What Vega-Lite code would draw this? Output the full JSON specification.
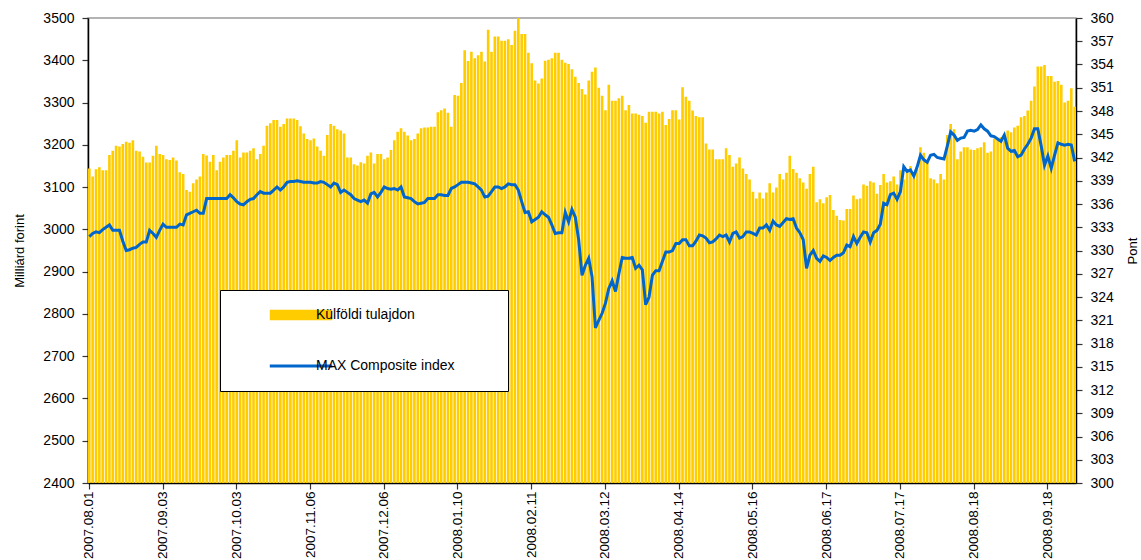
{
"$schema": "https://vega.github.io/schema/vega-lite/v6.json",
"width": 988, "height": 465,
"autosize": {"type": "none"},
"padding": {"left": 88, "top": 18, "right": 65, "bottom": 77},
"background": "white",
"config": {
  "font": "Liberation Sans",
  "view": {"stroke": "#9a9a9a", "strokeWidth": 1.5},
  "axis": {"labelFont": "Liberation Sans", "labelFontSize": 14, "labelColor": "#000000", "titleFont": "Liberation Sans", "titleFontSize": 13, "titleFontWeight": "normal", "titleColor": "#000000", "domainColor": "#000000", "domainWidth": 1.5, "tickColor": "#333333", "tickSize": 6, "tickWidth": 1.2, "grid": false}
},
"data": {"values": [
{"d":"2007.08.01","f":3144,"m":331.8},{"d":"2007.08.02","f":3125,"m":332.2},{"d":"2007.08.03","f":3142,"m":332.4},{"d":"2007.08.06","f":3147,"m":332.3},{"d":"2007.08.07","f":3140,"m":332.7},{"d":"2007.08.08","f":3140,"m":333.0},{"d":"2007.08.09","f":3176,"m":333.3},{"d":"2007.08.10","f":3186,"m":332.6},{"d":"2007.08.13","f":3198,"m":332.6},{"d":"2007.08.14","f":3196,"m":332.6},
{"d":"2007.08.15","f":3202,"m":331.2},{"d":"2007.08.16","f":3207,"m":330.0},{"d":"2007.08.17","f":3205,"m":330.1},{"d":"2007.08.21","f":3211,"m":330.3},{"d":"2007.08.22","f":3186,"m":330.4},{"d":"2007.08.23","f":3184,"m":330.8},{"d":"2007.08.24","f":3172,"m":331.1},{"d":"2007.08.27","f":3158,"m":331.1},{"d":"2007.08.28","f":3158,"m":332.6},{"d":"2007.08.29","f":3174,"m":332.2},
{"d":"2007.08.30","f":3198,"m":331.7},{"d":"2007.08.31","f":3178,"m":332.6},{"d":"2007.09.03","f":3176,"m":333.4},{"d":"2007.09.04","f":3166,"m":333.0},{"d":"2007.09.05","f":3164,"m":333.0},{"d":"2007.09.06","f":3170,"m":333.0},{"d":"2007.09.07","f":3163,"m":333.0},{"d":"2007.09.10","f":3135,"m":333.4},{"d":"2007.09.11","f":3131,"m":333.3},{"d":"2007.09.12","f":3093,"m":334.6},
{"d":"2007.09.13","f":3089,"m":334.8},{"d":"2007.09.14","f":3109,"m":335.0},{"d":"2007.09.17","f":3118,"m":335.2},{"d":"2007.09.18","f":3125,"m":334.8},{"d":"2007.09.19","f":3178,"m":334.8},{"d":"2007.09.20","f":3175,"m":336.7},{"d":"2007.09.21","f":3160,"m":336.7},{"d":"2007.09.24","f":3176,"m":336.7},{"d":"2007.09.25","f":3140,"m":336.7},{"d":"2007.09.26","f":3160,"m":336.7},
{"d":"2007.09.27","f":3170,"m":336.7},{"d":"2007.09.28","f":3176,"m":336.7},{"d":"2007.10.01","f":3176,"m":337.2},{"d":"2007.10.02","f":3186,"m":336.8},{"d":"2007.10.03","f":3211,"m":336.3},{"d":"2007.10.04","f":3170,"m":336.0},{"d":"2007.10.05","f":3182,"m":335.9},{"d":"2007.10.08","f":3182,"m":336.3},{"d":"2007.10.09","f":3186,"m":336.6},{"d":"2007.10.10","f":3192,"m":336.7},
{"d":"2007.10.11","f":3166,"m":337.2},{"d":"2007.10.12","f":3178,"m":337.6},{"d":"2007.10.15","f":3198,"m":337.4},{"d":"2007.10.16","f":3245,"m":337.4},{"d":"2007.10.17","f":3251,"m":337.4},{"d":"2007.10.18","f":3259,"m":337.8},{"d":"2007.10.19","f":3259,"m":338.2},{"d":"2007.10.20","f":3243,"m":337.8},{"d":"2007.10.24","f":3249,"m":338.2},{"d":"2007.10.25","f":3262,"m":338.8},
{"d":"2007.10.26","f":3262,"m":338.9},{"d":"2007.10.29","f":3262,"m":338.9},{"d":"2007.10.30","f":3259,"m":339.0},{"d":"2007.10.31","f":3244,"m":338.9},{"d":"2007.11.02","f":3227,"m":338.8},{"d":"2007.11.05","f":3214,"m":338.8},{"d":"2007.11.06","f":3211,"m":338.8},{"d":"2007.11.07","f":3215,"m":338.7},{"d":"2007.11.08","f":3196,"m":338.7},{"d":"2007.11.09","f":3186,"m":338.9},
{"d":"2007.11.12","f":3174,"m":338.8},{"d":"2007.11.13","f":3223,"m":338.5},{"d":"2007.11.14","f":3249,"m":338.2},{"d":"2007.11.15","f":3245,"m":338.7},{"d":"2007.11.16","f":3237,"m":338.5},{"d":"2007.11.19","f":3234,"m":337.5},{"d":"2007.11.20","f":3227,"m":337.8},{"d":"2007.11.21","f":3170,"m":337.5},{"d":"2007.11.22","f":3170,"m":337.2},{"d":"2007.11.23","f":3154,"m":336.7},
{"d":"2007.11.26","f":3151,"m":336.5},{"d":"2007.11.27","f":3159,"m":336.3},{"d":"2007.11.28","f":3156,"m":336.5},{"d":"2007.11.29","f":3174,"m":336.1},{"d":"2007.11.30","f":3182,"m":337.3},{"d":"2007.12.03","f":3156,"m":337.5},{"d":"2007.12.04","f":3178,"m":336.9},{"d":"2007.12.05","f":3178,"m":337.5},{"d":"2007.12.06","f":3166,"m":338.2},{"d":"2007.12.07","f":3170,"m":338.0},
{"d":"2007.12.10","f":3188,"m":337.9},{"d":"2007.12.11","f":3211,"m":338.0},{"d":"2007.12.12","f":3231,"m":337.8},{"d":"2007.12.13","f":3239,"m":338.2},{"d":"2007.12.14","f":3231,"m":336.9},{"d":"2007.12.17","f":3222,"m":336.8},{"d":"2007.12.18","f":3211,"m":336.7},{"d":"2007.12.19","f":3214,"m":336.3},{"d":"2007.12.20","f":3227,"m":336.0},{"d":"2007.12.21","f":3239,"m":336.1},
{"d":"2007.12.22","f":3241,"m":336.2},{"d":"2007.12.27","f":3241,"m":336.7},{"d":"2007.12.28","f":3243,"m":336.7},{"d":"2007.12.31","f":3243,"m":336.7},{"d":"2008.01.02","f":3277,"m":337.2},{"d":"2008.01.03","f":3282,"m":337.2},{"d":"2008.01.04","f":3286,"m":337.1},{"d":"2008.01.07","f":3276,"m":337.1},{"d":"2008.01.08","f":3243,"m":338.0},{"d":"2008.01.09","f":3318,"m":338.2},
{"d":"2008.01.10","f":3316,"m":338.5},{"d":"2008.01.11","f":3346,"m":338.8},{"d":"2008.01.14","f":3424,"m":338.8},{"d":"2008.01.15","f":3398,"m":338.8},{"d":"2008.01.16","f":3420,"m":338.7},{"d":"2008.01.17","f":3405,"m":338.6},{"d":"2008.01.18","f":3412,"m":338.2},{"d":"2008.01.21","f":3420,"m":337.8},{"d":"2008.01.22","f":3397,"m":336.9},{"d":"2008.01.23","f":3472,"m":337.0},
{"d":"2008.01.24","f":3420,"m":337.6},{"d":"2008.01.25","f":3456,"m":338.2},{"d":"2008.01.28","f":3456,"m":338.2},{"d":"2008.01.29","f":3446,"m":338.0},{"d":"2008.01.30","f":3446,"m":338.2},{"d":"2008.01.31","f":3450,"m":338.6},{"d":"2008.02.01","f":3436,"m":338.5},{"d":"2008.02.04","f":3470,"m":338.5},{"d":"2008.02.05","f":3500,"m":337.8},{"d":"2008.02.06","f":3462,"m":336.3},
{"d":"2008.02.07","f":3462,"m":334.9},{"d":"2008.02.08","f":3418,"m":335.0},{"d":"2008.02.11","f":3393,"m":333.7},{"d":"2008.02.12","f":3352,"m":334.0},{"d":"2008.02.13","f":3345,"m":334.3},{"d":"2008.02.14","f":3357,"m":335.0},{"d":"2008.02.15","f":3399,"m":334.6},{"d":"2008.02.18","f":3401,"m":334.3},{"d":"2008.02.19","f":3405,"m":333.3},{"d":"2008.02.20","f":3418,"m":332.2},
{"d":"2008.02.21","f":3418,"m":332.3},{"d":"2008.02.22","f":3401,"m":332.3},{"d":"2008.02.25","f":3394,"m":334.9},{"d":"2008.02.26","f":3391,"m":333.7},{"d":"2008.02.27","f":3379,"m":335.3},{"d":"2008.02.28","f":3361,"m":334.3},{"d":"2008.02.29","f":3346,"m":331.4},{"d":"2008.03.03","f":3332,"m":326.8},{"d":"2008.03.04","f":3319,"m":328.1},{"d":"2008.03.05","f":3352,"m":329.0},
{"d":"2008.03.06","f":3373,"m":326.6},{"d":"2008.03.07","f":3383,"m":320.0},{"d":"2008.03.10","f":3335,"m":321.0},{"d":"2008.03.11","f":3316,"m":321.9},{"d":"2008.03.12","f":3282,"m":323.2},{"d":"2008.03.13","f":3342,"m":325.1},{"d":"2008.03.14","f":3304,"m":326.1},{"d":"2008.03.17","f":3304,"m":324.7},{"d":"2008.03.18","f":3310,"m":327.0},{"d":"2008.03.19","f":3316,"m":329.1},
{"d":"2008.03.20","f":3282,"m":329.0},{"d":"2008.03.21","f":3294,"m":329.0},{"d":"2008.03.25","f":3274,"m":329.1},{"d":"2008.03.26","f":3274,"m":327.7},{"d":"2008.03.27","f":3271,"m":328.1},{"d":"2008.03.28","f":3268,"m":327.5},{"d":"2008.03.31","f":3252,"m":323.0},{"d":"2008.04.01","f":3278,"m":324.0},{"d":"2008.04.02","f":3278,"m":326.8},{"d":"2008.04.03","f":3278,"m":327.4},
{"d":"2008.04.04","f":3274,"m":327.4},{"d":"2008.04.07","f":3278,"m":328.6},{"d":"2008.04.08","f":3247,"m":329.8},{"d":"2008.04.09","f":3261,"m":329.8},{"d":"2008.04.10","f":3282,"m":330.0},{"d":"2008.04.11","f":3282,"m":330.9},{"d":"2008.04.14","f":3260,"m":330.9},{"d":"2008.04.15","f":3336,"m":331.4},{"d":"2008.04.16","f":3314,"m":331.4},{"d":"2008.04.17","f":3304,"m":330.6},
{"d":"2008.04.18","f":3281,"m":330.6},{"d":"2008.04.21","f":3268,"m":331.2},{"d":"2008.04.22","f":3265,"m":332.0},{"d":"2008.04.23","f":3265,"m":331.9},{"d":"2008.04.24","f":3203,"m":331.6},{"d":"2008.04.25","f":3189,"m":331.0},{"d":"2008.04.28","f":3189,"m":331.1},{"d":"2008.04.29","f":3166,"m":331.5},{"d":"2008.04.30","f":3166,"m":332.0},{"d":"2008.05.02","f":3166,"m":331.8},
{"d":"2008.05.05","f":3192,"m":332.0},{"d":"2008.05.06","f":3176,"m":331.1},{"d":"2008.05.07","f":3148,"m":332.2},{"d":"2008.05.08","f":3156,"m":332.4},{"d":"2008.05.09","f":3170,"m":331.6},{"d":"2008.05.13","f":3144,"m":331.8},{"d":"2008.05.14","f":3131,"m":332.4},{"d":"2008.05.15","f":3118,"m":332.4},{"d":"2008.05.16","f":3089,"m":332.2},{"d":"2008.05.19","f":3073,"m":332.0},
{"d":"2008.05.20","f":3087,"m":332.9},{"d":"2008.05.21","f":3073,"m":332.9},{"d":"2008.05.22","f":3087,"m":333.3},{"d":"2008.05.23","f":3109,"m":332.6},{"d":"2008.05.26","f":3087,"m":333.8},{"d":"2008.05.27","f":3099,"m":333.3},{"d":"2008.05.28","f":3131,"m":333.1},{"d":"2008.05.29","f":3118,"m":333.6},{"d":"2008.05.30","f":3134,"m":334.1},{"d":"2008.06.02","f":3174,"m":334.0},
{"d":"2008.06.03","f":3143,"m":334.1},{"d":"2008.06.04","f":3134,"m":332.9},{"d":"2008.06.05","f":3121,"m":332.3},{"d":"2008.06.06","f":3111,"m":331.4},{"d":"2008.06.09","f":3096,"m":327.7},{"d":"2008.06.10","f":3131,"m":329.4},{"d":"2008.06.11","f":3148,"m":330.0},{"d":"2008.06.12","f":3064,"m":329.0},{"d":"2008.06.13","f":3071,"m":328.6},{"d":"2008.06.16","f":3062,"m":329.3},
{"d":"2008.06.17","f":3076,"m":329.1},{"d":"2008.06.18","f":3081,"m":328.7},{"d":"2008.06.19","f":3046,"m":329.1},{"d":"2008.06.20","f":3032,"m":329.4},{"d":"2008.06.23","f":3022,"m":329.4},{"d":"2008.06.24","f":3021,"m":329.7},{"d":"2008.06.25","f":3048,"m":330.7},{"d":"2008.06.26","f":3048,"m":330.5},{"d":"2008.06.27","f":3080,"m":331.8},{"d":"2008.06.30","f":3071,"m":330.9},
{"d":"2008.07.01","f":3073,"m":331.7},{"d":"2008.07.02","f":3106,"m":332.4},{"d":"2008.07.03","f":3103,"m":332.3},{"d":"2008.07.04","f":3114,"m":331.1},{"d":"2008.07.07","f":3111,"m":332.3},{"d":"2008.07.08","f":3084,"m":332.6},{"d":"2008.07.09","f":3105,"m":333.4},{"d":"2008.07.10","f":3131,"m":336.1},{"d":"2008.07.11","f":3111,"m":335.9},{"d":"2008.07.14","f":3114,"m":337.2},
{"d":"2008.07.15","f":3125,"m":337.4},{"d":"2008.07.16","f":3106,"m":336.6},{"d":"2008.07.17","f":3140,"m":337.6},{"d":"2008.07.18","f":3118,"m":340.8},{"d":"2008.07.21","f":3140,"m":340.2},{"d":"2008.07.22","f":3150,"m":340.4},{"d":"2008.07.23","f":3121,"m":339.6},{"d":"2008.07.24","f":3142,"m":340.8},{"d":"2008.07.25","f":3194,"m":342.3},{"d":"2008.07.28","f":3181,"m":341.7},
{"d":"2008.07.29","f":3158,"m":341.4},{"d":"2008.07.30","f":3121,"m":342.3},{"d":"2008.07.31","f":3118,"m":342.4},{"d":"2008.08.01","f":3109,"m":342.0},{"d":"2008.08.04","f":3131,"m":341.9},{"d":"2008.08.05","f":3118,"m":341.8},{"d":"2008.08.06","f":3223,"m":343.5},{"d":"2008.08.07","f":3249,"m":345.3},{"d":"2008.08.08","f":3237,"m":344.9},{"d":"2008.08.11","f":3166,"m":344.2},
{"d":"2008.08.12","f":3184,"m":344.5},{"d":"2008.08.13","f":3194,"m":344.6},{"d":"2008.08.14","f":3194,"m":345.4},{"d":"2008.08.15","f":3189,"m":345.5},{"d":"2008.08.18","f":3188,"m":345.4},{"d":"2008.08.19","f":3192,"m":345.6},{"d":"2008.08.21","f":3194,"m":346.2},{"d":"2008.08.22","f":3206,"m":345.7},{"d":"2008.08.25","f":3181,"m":345.4},{"d":"2008.08.26","f":3184,"m":344.8},
{"d":"2008.08.27","f":3215,"m":344.7},{"d":"2008.08.28","f":3215,"m":344.4},{"d":"2008.08.29","f":3218,"m":344.1},{"d":"2008.09.01","f":3210,"m":344.9},{"d":"2008.09.02","f":3234,"m":343.2},{"d":"2008.09.03","f":3230,"m":342.8},{"d":"2008.09.04","f":3241,"m":342.9},{"d":"2008.09.05","f":3245,"m":342.1},{"d":"2008.09.08","f":3265,"m":342.3},{"d":"2008.09.09","f":3268,"m":343.1},
{"d":"2008.09.10","f":3281,"m":343.7},{"d":"2008.09.11","f":3304,"m":344.5},{"d":"2008.09.12","f":3338,"m":345.7},{"d":"2008.09.15","f":3385,"m":345.7},{"d":"2008.09.16","f":3385,"m":343.5},{"d":"2008.09.17","f":3389,"m":341.0},{"d":"2008.09.18","f":3363,"m":342.2},{"d":"2008.09.19","f":3363,"m":340.6},{"d":"2008.09.22","f":3349,"m":342.3},{"d":"2008.09.23","f":3351,"m":343.9},
{"d":"2008.09.24","f":3342,"m":343.7},{"d":"2008.09.25","f":3300,"m":343.6},{"d":"2008.09.26","f":3304,"m":343.7},{"d":"2008.09.29","f":3334,"m":343.6},{"d":"2008.09.30","f":3290,"m":341.5}
]},
"layer": [
  {
    "mark": {"type": "bar"},
    "encoding": {
      "x": {"field": "d", "type": "ordinal", "sort": null,
        "scale": {"paddingInner": 0.22, "paddingOuter": 0},
        "axis": {"title": null, "values": ["2007.08.01","2007.09.03","2007.10.03","2007.11.06","2007.12.06","2008.01.10","2008.02.11","2008.03.12","2008.04.14","2008.05.16","2008.06.17","2008.07.17","2008.08.18","2008.09.18"],
          "labelAngle": -90, "labelAlign": "right", "labelBaseline": "middle", "labelPadding": 2, "tickSize": 6, "labelFontSize": 13.5}},
      "y": {"field": "f", "type": "quantitative",
        "scale": {"domain": [2400, 3500], "zero": false, "nice": false},
        "axis": {"orient": "left", "title": "Milliárd forint", "format": "d", "values": [2400,2500,2600,2700,2800,2900,3000,3100,3200,3300,3400,3500], "labelPadding": 8, "titlePadding": 16}},
      "y2": {"datum": 2400},
      "color": {"datum": "Külföldi tulajdon", "type": "nominal",
        "scale": {"domain": ["Külföldi tulajdon", "MAX Composite index"], "range": ["#FFCC00", "#0066CC"]},
        "legend": {"orient": "none", "legendX": 132, "legendY": 272, "title": null, "direction": "vertical",
          "fillColor": "white", "strokeColor": "#000000", "padding": 18,
          "symbolSize": 3900, "symbolOffset": 56, "labelOffset": 8, "rowPadding": 37,
          "labelFont": "Liberation Sans", "labelFontSize": 14, "labelColor": "#000000", "labelLimit": 400,
          "labelExpr": "datum.label + '\u00a0\u00a0\u00a0\u00a0\u00a0\u00a0\u00a0\u00a0\u00a0\u200b'",
          "encode": {"symbols": {"update": {
            "shape": {"signal": "datum.value === 'MAX Composite index' ? 'stroke' : 'M-1,-0.17H1V0.17H-1Z'"},
            "size": {"value": 3900},
            "fill": {"signal": "datum.value === 'MAX Composite index' ? 'transparent' : '#FFCC00'"},
            "stroke": {"signal": "datum.value === 'MAX Composite index' ? '#0066CC' : 'transparent'"},
            "strokeWidth": {"signal": "datum.value === 'MAX Composite index' ? 3 : 0"},
            "opacity": {"value": 1}, "fillOpacity": {"value": 1}, "strokeOpacity": {"value": 1}
          }}}
        }
      }
    }
  },
  {
    "mark": {"type": "line", "strokeWidth": 3},
    "encoding": {
      "x": {"field": "d", "type": "ordinal", "sort": null},
      "y": {"field": "m", "type": "quantitative",
        "scale": {"domain": [300, 360], "zero": false, "nice": false},
        "axis": {"orient": "right", "title": "Pont", "titleAngle": -90, "values": [300,303,306,309,312,315,318,321,324,327,330,333,336,339,342,345,348,351,354,357,360], "labelPadding": 8, "titlePadding": 26}},
      "color": {"datum": "MAX Composite index", "type": "nominal"}
    }
  }
],
"resolve": {"scale": {"y": "independent"}}
}
